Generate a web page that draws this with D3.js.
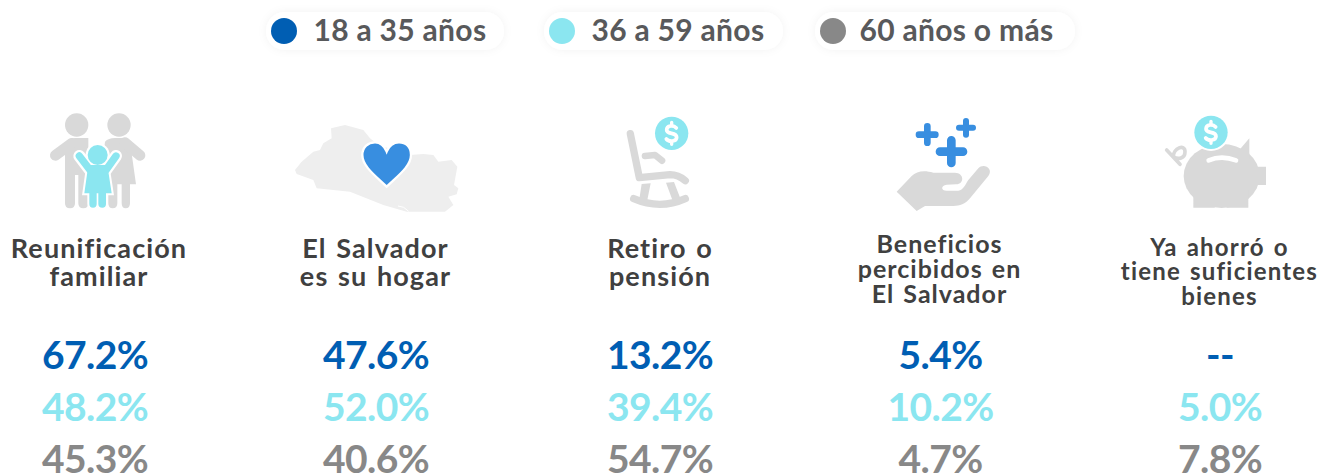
<!DOCTYPE html>
<html>
<head>
<meta charset="utf-8">
<script src="https://cdn.jsdelivr.net/npm/d3@7"></script>
<style>
  body { margin: 0; background: #fff; }
  svg { display: block; }
  text { font-family: Lato, sans-serif; font-weight: 700; }
</style>
</head>
<body>
<svg width="1320" height="476"></svg>
<script>
// values
const categories = ["Reunificación familiar", "El Salvador es su hogar", "Retiro o pensión", "Beneficios percibidos en El Salvador", "Ya ahorró o tiene suficientes bienes"];
const titleLines = [
  ["Reunificación", "familiar"],
  ["El Salvador", "es su hogar"],
  ["Retiro o", "pensión"],
  ["Beneficios", "percibidos en", "El Salvador"],
  ["Ya ahorró o", "tiene suficientes", "bienes"]
];
const seriesNames = ["18 a 35 años", "36 a 59 años", "60 años o más"];
const young = [67.2, 47.6, 13.2, 5.4, null];
const middle = [48.2, 52.0, 39.4, 10.2, 5.0];
const older = [45.3, 40.6, 54.7, 4.7, 7.8];
const allSeries = [young, middle, older];

const seriesColors = ["#005eb3", "#8be6f0", "#888888"];
const grey = "#d9d9d9", blue = "#388ee0", aqua = "#8be6f0";

const svg = d3.select("svg");

const x = d3.scaleOrdinal().domain(categories).range([99, 375.5, 660, 939.5, 1219.5]);
const xValue = d3.scaleOrdinal().domain(categories).range([95, 376, 660, 940.5, 1220]);
const yValue = d3.scalePoint().domain(seriesNames).range([369, 473]);
const fmt = d3.format(".1f");

// legend
const legendBoxes = [[266, 238, 284, 314], [544, 239, 562, 592], [815, 260, 833, 860]];
const defs = svg.append("defs");
defs.append("filter").attr("id", "soft")
  .attr("x", "-10%").attr("y", "-40%").attr("width", "120%").attr("height", "180%")
  .append("feDropShadow")
  .attr("dx", 0).attr("dy", 0).attr("stdDeviation", 4)
  .attr("flood-color", "#000").attr("flood-opacity", 0.05);

const legend = svg.append("g").selectAll("g").data(seriesNames).join("g");
legend.append("rect")
  .attr("x", (d, i) => legendBoxes[i][0])
  .attr("y", 12)
  .attr("width", (d, i) => legendBoxes[i][1])
  .attr("height", 38)
  .attr("rx", 19)
  .attr("fill", "#fff")
  .attr("filter", "url(#soft)");
legend.append("circle")
  .attr("cx", (d, i) => legendBoxes[i][2])
  .attr("cy", 31)
  .attr("r", 13)
  .attr("fill", (d, i) => seriesColors[i]);
legend.append("text")
  .attr("x", (d, i) => legendBoxes[i][3] - 0.5)
  .attr("y", 41)
  .attr("font-size", 30)
  .attr("letter-spacing", 0.3)
  .attr("fill", "#58595b")
  .text(d => d);

// icons, traced in 3x crop units and scaled back down
function icon(ox, oy) {
  return svg.append("g").attr("transform", `translate(${ox},${oy}) scale(${1 / 3})`);
}
function stroke(g, d, color, w) {
  return g.append("path").attr("d", d).attr("fill", "none")
    .attr("stroke", color).attr("stroke-width", w)
    .attr("stroke-linecap", "round").attr("stroke-linejoin", "round");
}
function coin(g, cx, cy) {
  g.append("circle").attr("cx", cx).attr("cy", cy).attr("r", 50).attr("fill", aqua);
  const s = g.append("g").attr("transform", `translate(${cx},${cy})`);
  stroke(s, "M14 -16 C6 -25 -15 -25 -15 -10 C-15 5 15 -5 15 12 C15 26 -9 26 -16 17", "#fff", 11);
  stroke(s, "M0 -33 L0 -26 M0 26 L0 33", "#fff", 10);
}

// family
const fam = icon(30, 100);
fam.append("circle").attr("cx", 140).attr("cy", 75).attr("r", 35).attr("fill", grey);
fam.append("circle").attr("cx", 267).attr("cy", 75).attr("r", 35).attr("fill", grey);
fam.append("path").attr("fill", grey)
  .attr("d", "M105 135 Q110 114 135 114 L175 114 L175 310 Q175 325 160 325 Q145 325 145 310 L145 225 L135 225 L135 310 Q135 325 120 325 Q105 325 105 310 Z");
stroke(fam, "M125 130 L76 166", grey, 32);
fam.append("path").attr("fill", grey)
  .attr("d", "M225 125 Q235 114 255 114 L285 114 Q295 114 300 125 L318 253 L300 253 L300 310 Q300 325 287 325 Q275 325 275 310 L275 253 L262 253 L262 310 Q262 325 248 325 Q235 325 235 310 L235 253 L210 253 Z");
stroke(fam, "M285 128 L330 166", grey, 32);
const kidBody = "M175 195 L232 195 L245 280 L228 280 L228 312 Q228 323 217 323 Q205 323 205 312 L205 280 L200 280 L200 312 Q200 323 189 323 Q178 323 178 312 L178 280 L163 280 Z";
stroke(fam, "M180 210 L148 168 M228 210 L258 168", "#fff", 36);
fam.append("path").attr("d", kidBody).attr("fill", "#fff").attr("stroke", "#fff").attr("stroke-width", 12);
fam.append("circle").attr("cx", 203).attr("cy", 165).attr("r", 36).attr("fill", "#fff");
stroke(fam, "M180 210 L148 168 M228 210 L258 168", aqua, 22);
fam.append("path").attr("d", kidBody).attr("fill", aqua);
fam.append("circle").attr("cx", 203).attr("cy", 165).attr("r", 30).attr("fill", aqua);

// country outline and heart
const map = icon(30, 100);
map.append("path").attr("fill", "#eeeeee")
  .attr("d", "M795 210 L815 185 L850 155 L870 150 L880 130 L905 115 L903 85 L945 75 L1000 90 L1020 115 L1045 135 L1140 165 L1180 162 L1210 165 L1225 185 L1265 180 L1282 200 L1272 255 L1285 265 L1280 283 L1255 290 L1270 315 L1245 335 L1130 335 L1060 315 L960 275 L860 265 L850 240 L800 222 Z");
stroke(map, "M1105 318 Q1122 318 1135 333", "#fff", 3);
map.append("path").attr("fill", blue).attr("stroke", "#fff").attr("stroke-width", 7)
  .attr("d", "M1070 260 C1040 230 997 200 997 165 C997 140 1015 127 1035 127 C1050 127 1063 138 1070 155 C1077 138 1090 127 1107 127 C1127 127 1143 140 1143 165 C1143 200 1100 230 1070 260 Z");

// rocking chair
const chair = icon(600, 100);
stroke(chair, "M91 101 L118 233 L210 224 Q235 224 256 242", grey, 22);
stroke(chair, "M135 168 L165 165 L186 182", grey, 20);
chair.append("path").attr("d", "M125 252 L152 250 L142 300 L118 298 Z M198 248 L222 246 L242 298 L218 302 Z").attr("fill", grey);
stroke(chair, "M101 296 Q180 330 256 296", grey, 22);
coin(chair, 215, 100);

// hand with plus signs
const hand = icon(600, 100);
hand.append("path").attr("fill", grey)
  .attr("d", "M890 275 L935 228 C950 212 975 210 1000 218 L1065 218 C1092 218 1095 252 1068 253 L1040 254 C1022 256 1022 272 1040 272 L1075 272 C1090 270 1095 255 1105 240 L1135 205 C1150 188 1182 205 1165 228 L1110 295 C1095 313 1080 318 1060 318 L975 318 L950 333 Z");
stroke(hand, "M957 104 L1006 104 M982 79 L982 128", blue, 20);
stroke(hand, "M1077 83 L1119 83 M1098 63 L1098 104", blue, 18);
stroke(hand, "M1020 155 L1089 155 M1054 121 L1054 189", blue, 26);

// piggy bank
const pig = icon(1130, 100);
pig.append("ellipse").attr("cx", 275).attr("cy", 228).attr("rx", 114).attr("ry", 96).attr("fill", grey);
pig.append("path").attr("d", "M190 270 L355 270 L355 323 L290 323 Q288 304 272 304 Q256 304 254 323 L190 323 Z").attr("fill", grey);
pig.append("path").attr("d", "M328 150 L358 115 L358 180 Z M370 200 L408 200 L408 255 L370 255 Z").attr("fill", grey);
stroke(pig, "M236 181 Q275 165 318 181", "#fff", 14);
stroke(pig, "M110 150 L150 193 M130 170 C130 145 165 130 165 155 C165 175 145 180 130 170", grey, 11);
pig.append("circle").attr("cx", 243).attr("cy", 97).attr("r", 56).attr("fill", "#fff");
coin(pig, 243, 97);

// titles
const titleSize = [27, 27, 27, 25, 24];
const titleSpacing = [1.1, 1.1, 1.1, 1, 1.2];
const titleBase = [[258, 286], [258, 286], [258, 286], [252.5, 277.5, 302.5], [256, 280, 305]];
const columns = svg.append("g").selectAll("g").data(categories).join("g");
columns.each(function (cat, i) {
  d3.select(this).selectAll("text.title")
    .data(titleLines[i])
    .join("text")
    .attr("class", "title")
    .attr("x", x(cat))
    .attr("y", (d, j) => titleBase[i][j])
    .attr("text-anchor", "middle")
    .attr("font-size", titleSize[i])
    .attr("letter-spacing", titleSpacing[i])
    .attr("word-spacing", 2)
    .attr("fill", "#404040")
    .text(d => d);
});

// values
seriesNames.forEach((name, s) => {
  svg.append("g").selectAll("text")
    .data(allSeries[s])
    .join("text")
    .attr("x", (d, i) => xValue(categories[i]))
    .attr("y", yValue(name))
    .attr("text-anchor", "middle")
    .attr("font-size", 39)
    .attr("letter-spacing", -0.6)
    .attr("fill", seriesColors[s])
    .text(d => d === null ? "--" : fmt(d) + "%");
});
</script>
</body>
</html>
